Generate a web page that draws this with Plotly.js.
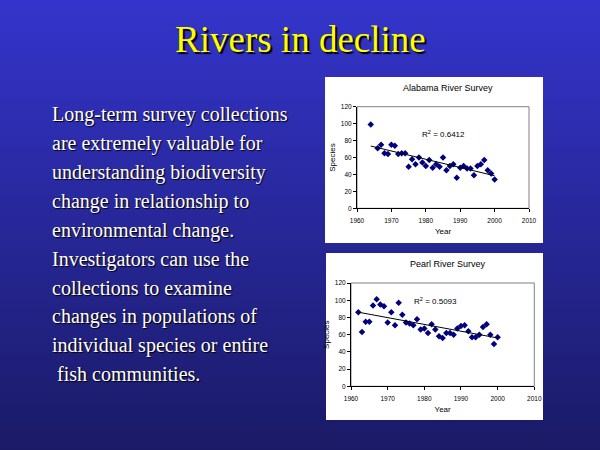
<!DOCTYPE html>
<html><head><meta charset="utf-8">
<script src="https://cdn.plot.ly/plotly-3.0.1.min.js"></script>
<style>
html,body{margin:0;padding:0;width:600px;height:450px;overflow:hidden;background:linear-gradient(to bottom,#3434cc 0%,#1a1a66 100%);}
#chart{width:600px;height:450px;}
</style></head><body><div id="chart"></div>
<script>
const slideTitle = "Rivers in decline";
const bodyLines = [
  "Long-term survey collections",
  "are extremely valuable for",
  "understanding biodiversity",
  "change in relationship to",
  "environmental change.",
  "Investigators can use the",
  "collections to examine",
  "changes in populations of",
  "individual species or entire",
  "&nbsp;fish communities."
];

const alabamaTitle = "Alabama River Survey";
const alabamaR2 = "R<sup>2</sup> = 0.6412";
const alabamaYears = [1964,1966,1967,1968,1969,1970,1971,1972,1973,1974,1975,1976,1977,1978,1979,1980,1981,1982,1983,1984,1985,1986,1987,1988,1989,1990,1991,1992,1993,1994,1995,1996,1997,1998,1999,2000];
const alabamaSpecies = [99,71,75,65,64,75,74,64,65,65,49,58,52,60,54,50,57,48,52,49,60,45,50,52,36,48,50,47,47,39,50,52,57,45,41,34];

const pearlTitle = "Pearl River Survey";
const pearlR2 = "R<sup>2</sup> = 0.5093";
const pearlYears = [1962,1963,1964,1965,1966,1967,1968,1969,1970,1971,1972,1973,1974,1975,1976,1977,1978,1979,1980,1981,1982,1983,1984,1985,1986,1987,1988,1989,1990,1991,1992,1993,1994,1995,1996,1997,1998,1999,2000];
const pearlSpecies = [86,63,75,75,94,101,95,93,74,86,71,97,83,74,73,71,78,66,67,62,72,66,58,56,62,62,60,67,70,71,64,57,57,60,69,72,60,49,57];

const xTickVals = [1960,1970,1980,1990,2000,2010];
const yTickVals = [0,20,40,60,80,100,120];
const xAxisLabel = "Year";
const yAxisLabel = "Species";

function trend(xs, ys){
  const n = xs.length;
  let sx=0, sy=0, sxx=0, sxy=0;
  for(let i=0;i<n;i++){sx+=xs[i];sy+=ys[i];sxx+=xs[i]*xs[i];sxy+=xs[i]*ys[i];}
  const b = (n*sxy - sx*sy)/(n*sxx - sx*sx);
  const a = (sy - b*sx)/n;
  const x0 = Math.min(...xs), x1 = Math.max(...xs);
  return {x:[x0,x1], y:[a+b*x0, a+b*x1]};
}

const px = v => v/600;
const py = v => 1 - v/450;

const markerStyle = {symbol:'diamond', size:5, color:'#000080'};
const ta = trend(alabamaYears, alabamaSpecies);
const tp = trend(pearlYears, pearlSpecies);

const data = [
  {x:alabamaYears, y:alabamaSpecies, type:'scatter', mode:'markers', marker:markerStyle, xaxis:'x', yaxis:'y', hoverinfo:'x+y'},
  {x:ta.x, y:ta.y, type:'scatter', mode:'lines', line:{color:'#000', width:1}, xaxis:'x', yaxis:'y', hoverinfo:'skip'},
  {x:pearlYears, y:pearlSpecies, type:'scatter', mode:'markers', marker:markerStyle, xaxis:'x2', yaxis:'y2', hoverinfo:'x+y'},
  {x:tp.x, y:tp.y, type:'scatter', mode:'lines', line:{color:'#000', width:1}, xaxis:'x2', yaxis:'y2', hoverinfo:'skip'}
];

const tickFont = {family:'Liberation Sans, Arial', size:6.5, color:'#000'};
const titleFont = {family:'Liberation Sans, Arial', size:8, color:'#000'};
function xax(domain, anchor){
  return {domain:domain, anchor:anchor, range:[1960,2010], tickvals:xTickVals, ticks:'outside', ticklen:3, tickwidth:1, tickcolor:'#000',
    ticklabelstandoff:3,
    showline:true, linecolor:'#000', linewidth:1, showgrid:false, zeroline:false, tickfont:tickFont, automargin:false,
    title:{text:xAxisLabel, font:titleFont, standoff:5}};
}
function yax(domain, anchor){
  return {domain:domain, anchor:anchor, range:[0,120], tickvals:yTickVals, ticks:'outside', ticklen:3, tickwidth:1, tickcolor:'#000',
    showline:true, linecolor:'#000', linewidth:1, showgrid:false, zeroline:false, tickfont:tickFont, automargin:false,
    title:{text:yAxisLabel, font:titleFont, standoff:4}};
}

const annotations = [];
annotations.push({xref:'paper', yref:'paper', x:px(300), y:py(39), xanchor:'center', yanchor:'middle', showarrow:false,
  text:slideTitle, font:{family:'Liberation Serif, Times New Roman, serif', size:37, color:'#ffff00', shadow:'2px 2px 1px #000'}});
bodyLines.forEach((t,i)=>{
  annotations.push({xref:'paper', yref:'paper', x:px(50), y:py(115 + 28.8*i), xanchor:'left', yanchor:'middle', showarrow:false,
    text:t, font:{family:'Liberation Serif, Times New Roman, serif', size:20, color:'#ffffff', shadow:'1px 1px 1px #000'}});
});
annotations.push({xref:'paper', yref:'paper', x:px(448), y:py(88), xanchor:'center', yanchor:'middle', showarrow:false,
  text:alabamaTitle, font:{family:'Liberation Sans, Arial', size:9, color:'#000'}});
annotations.push({xref:'paper', yref:'paper', x:px(448), y:py(264), xanchor:'center', yanchor:'middle', showarrow:false,
  text:pearlTitle, font:{family:'Liberation Sans, Arial', size:9, color:'#000'}});
annotations.push({xref:'paper', yref:'paper', x:px(443), y:py(134), xanchor:'center', yanchor:'middle', showarrow:false,
  text:alabamaR2, font:{family:'Liberation Sans, Arial', size:8, color:'#000'}});
annotations.push({xref:'paper', yref:'paper', x:px(435), y:py(301), xanchor:'center', yanchor:'middle', showarrow:false,
  text:pearlR2, font:{family:'Liberation Sans, Arial', size:8, color:'#000'}});

const shapes = [
  {type:'rect', xref:'paper', yref:'paper', x0:px(325), x1:px(543), y0:py(243), y1:py(77), fillcolor:'#ffffff', line:{width:0}, layer:'below'},
  {type:'rect', xref:'paper', yref:'paper', x0:px(326), x1:px(543), y0:py(420), y1:py(253), fillcolor:'#ffffff', line:{width:0}, layer:'below'},
  {type:'rect', xref:'x domain', yref:'y domain', x0:0, x1:1, y0:0, y1:1, line:{color:'#808080', width:1}, layer:'below'},
  {type:'rect', xref:'x2 domain', yref:'y2 domain', x0:0, x1:1, y0:0, y1:1, line:{color:'#808080', width:1}, layer:'below'}
];

const layout = {
  width:600, height:450, margin:{l:0,r:0,t:0,b:0},
  paper_bgcolor:'rgba(0,0,0,0)', plot_bgcolor:'#ffffff',
  showlegend:false,
  xaxis:xax([357/600, 529/600], 'y'),
  yaxis:yax([1-208.3/450, 1-106.7/450], 'x'),
  xaxis2:xax([351/600, 534.3/600], 'y2'),
  yaxis2:yax([1-386.3/450, 1-283/450], 'x2'),
  annotations:annotations, shapes:shapes
};

Plotly.newPlot('chart', data, layout, {staticPlot:true, displayModeBar:false});
</script></body></html>
